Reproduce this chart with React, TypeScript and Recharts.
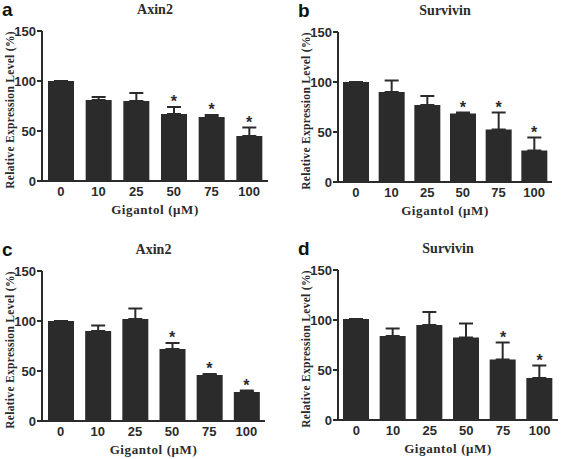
import { Bar, ComposedChart, ErrorBar, LabelList, Label, Line, XAxis, YAxis } from 'recharts';

const doses = ['0', '10', '25', '50', '75', '100'];
const yTicks = [0, 50, 100, 150];

// panel a: Axin2
const axin2A = [100, 81, 80, 67, 64, 45];
const axin2AErr = [0, 3, 8, 7, 2, 8.5];
const axin2AStar = [false, false, false, true, true, true];

// panel b: Survivin
const survivinB = [100, 90, 77, 68.5, 52.5, 31.5];
const survivinBErr = [0, 11.5, 9, 1, 17, 13];
const survivinBStar = [false, false, false, true, true, true];

// panel c: Axin2
const axin2C = [100, 90, 102, 72, 46, 29];
const axin2CErr = [0, 5.5, 10.5, 6, 1, 1.5];
const axin2CStar = [false, false, false, true, true, true];

// panel d: Survivin
const survivinD = [101, 84, 95, 82.5, 60.5, 42];
const survivinDErr = [0, 7.5, 13, 14, 17, 12.5];
const survivinDStar = [false, false, false, false, true, true];

const INK = '#2b2b2b';
const SERIF = '"Liberation Serif", "Times New Roman", serif';
const SANS = '"Liberation Sans", Arial, sans-serif';

function rows(values: number[], errs: number[], stars: boolean[]) {
  return doses.map((dose, i) => ({
    dose,
    value: values[i],
    err: [0, errs[i]],
    capTop: values[i] + errs[i],
    star: stars[i] ? '*' : ''
  }));
}

const renderStar = (props: any) => {
  const x = props.viewBox?.x ?? props.x;
  const y = props.viewBox?.y ?? props.y;
  if (!props.value || x == null || y == null) return null;
  return (
    <text x={x} y={y} textAnchor="middle" fontSize={16} fontWeight="bold" fontFamily={SANS} fill={INK}>
      {props.value}
    </text>
  );
};

interface PanelProps {
  letter: string;
  title: string;
  values: number[];
  errs: number[];
  stars: boolean[];
  axisX: number;
  plotTop: number;
  plotW: number;
}

function Panel({ letter, title, values, errs, stars, axisX, plotTop, plotW }: PanelProps) {
  const width = 42 + plotW + 16;
  const height = 230;
  const data = rows(values, errs, stars);

  return (
    <div style={{ position: 'absolute', left: axisX - 42, top: plotTop - 31, width, height }}>
      <svg width={width} height={40} style={{ position: 'absolute', left: 0, top: 0, overflow: 'visible' }}>
        <text x={2} y={16} fontSize={19} fontWeight="bold" fontFamily={SANS} fill="#111">
          {letter}
        </text>
        <text x={42 + plotW / 2} y={14} textAnchor="middle" fontSize={14} fontWeight="bold" fontFamily={SERIF} fill={INK}>
          {title}
        </text>
      </svg>
      <ComposedChart
        width={width}
        height={height}
        data={data}
        margin={{ top: 31, right: 16, bottom: 19, left: 12 }}
        barSize={26}
      >
        <XAxis
          dataKey="dose"
          height={30}
          tickLine={false}
          tickSize={4}
          tickMargin={2}
          axisLine={{ stroke: INK, strokeWidth: 2 }}
          tick={{ fill: INK, fontSize: 13, fontWeight: 'bold', fontFamily: SANS }}
        >
          <Label
            content={({ viewBox }: any) => (
              <text
                x={viewBox.x + viewBox.width / 2}
                y={viewBox.y + 33}
                textAnchor="middle"
                fontSize={13}
                fontWeight="bold"
                fontFamily={SERIF}
                letterSpacing={0.6}
                fill={INK}
              >
                Gigantol (μM)
              </text>
            )}
          />
        </XAxis>
        <YAxis
          width={30}
          domain={[0, 150]}
          ticks={yTicks}
          interval={0}
          tickSize={5}
          tickMargin={1}
          axisLine={{ stroke: INK, strokeWidth: 2 }}
          tickLine={{ stroke: INK, strokeWidth: 2 }}
          tick={{ fill: INK, fontSize: 13, fontWeight: 'bold', fontFamily: SANS }}
        >
          <Label
            content={({ viewBox }: any) => {
              const cx = viewBox.x - 2;
              const cy = viewBox.y + viewBox.height / 2 + 4;
              return (
                <text
                  x={cx}
                  y={cy}
                  transform={`rotate(-90 ${cx} ${cy})`}
                  textAnchor="middle"
                  dominantBaseline="central"
                  fontSize={11.5}
                  fontWeight="bold"
                  fontFamily={SERIF}
                  letterSpacing={0.3}
                  fill={INK}
                >
                  Relative Expression Level (%)
                </text>
              );
            }}
          />
        </YAxis>
        <Bar dataKey="value" fill={INK} isAnimationActive={false}>
          <ErrorBar dataKey="err" direction="y" width={7} strokeWidth={2} stroke={INK} isAnimationActive={false} />
        </Bar>
        <Line
          dataKey="capTop"
          stroke="none"
          dot={false}
          activeDot={false}
          legendType="none"
          isAnimationActive={false}
        >
          <LabelList dataKey="star" position="top" offset={0} content={renderStar} />
        </Line>
      </ComposedChart>
    </div>
  );
}

export default function App() {
  return (
    <div style={{ position: 'absolute', left: 0, top: 0, width: 567, height: 459, background: '#fff' }}>
      <Panel letter="a" title="Axin2" values={axin2A} errs={axin2AErr} stars={axin2AStar} axisX={42} plotTop={31} plotW={226} />
      <Panel letter="b" title="Survivin" values={survivinB} errs={survivinBErr} stars={survivinBStar} axisX={338} plotTop={32} plotW={214} />
      <Panel letter="c" title="Axin2" values={axin2C} errs={axin2CErr} stars={axin2CStar} axisX={42} plotTop={271} plotW={223} />
      <Panel letter="d" title="Survivin" values={survivinD} errs={survivinDErr} stars={survivinDStar} axisX={338} plotTop={270} plotW={220} />
    </div>
  );
}
